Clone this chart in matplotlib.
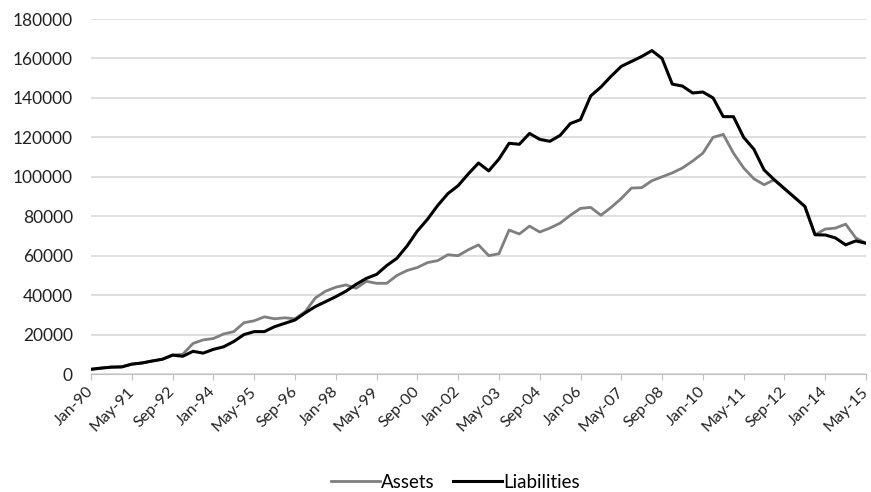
import numpy as np
import matplotlib
matplotlib.use("Agg")
from matplotlib import pyplot as plt

# one reading every 4 months, Jan-90 .. May-15
months = np.arange(0, 305, 4)

liabilities = [
    2400, 3000, 3500, 3600, 5000, 5600, 6600, 7500, 9600, 9000,
    11500, 10600, 12500, 13800, 16500, 20000, 21500, 21500, 24000, 25700,
    27400, 31000, 34200, 36700, 39200, 42000, 45500, 48500, 50500, 55000,
    58700, 65000, 72500, 78500, 85500, 91500, 95500, 101500, 107000, 103000,
    109000, 117000, 116500, 122000, 119000, 118000, 121000, 127000, 129000, 141000,
    145500, 151000, 156000, 158500, 161000, 164000, 160000, 147000, 146000, 142500,
    143000, 140000, 130500, 130500, 120000, 114000, 103500, 98500, 94000, 89500,
    85000, 70600, 70500, 69000, 65500, 67500, 66300,
]

assets = [
    2400, 3000, 3500, 3600, 5000, 5600, 6600, 7500, 9600, 10000,
    15500, 17300, 18000, 20300, 21500, 26000, 27000, 29000, 28000, 28500,
    28000, 31600, 38600, 42000, 44000, 45200, 43500, 47000, 46000, 46000,
    50000, 52500, 54000, 56500, 57500, 60500, 60000, 63000, 65500, 60000,
    61000, 73000, 71000, 75000, 72000, 74000, 76500, 80500, 84000, 84500,
    80500, 84500, 89000, 94300, 94500, 98000, 100000, 102000, 104500, 108000,
    112000, 120000, 121500, 112000, 104500, 99000, 96000, 98500, 94000, 89500,
    85000, 70600, 73500, 74000, 76000, 69000, 66300,
]

tick_labels = ["Jan-90", "May-91", "Sep-92", "Jan-94", "May-95", "Sep-96",
               "Jan-98", "May-99", "Sep-00", "Jan-02", "May-03", "Sep-04",
               "Jan-06", "May-07", "Sep-08", "Jan-10", "May-11", "Sep-12",
               "Jan-14", "May-15"]

plt.rcParams['font.family'] = ['Lato', 'DejaVu Sans']

fig = plt.figure(figsize=(8.71, 4.92), dpi=100)
ax = fig.add_axes([0.1045, 0.2398, 0.8898, 0.7215])

ax.plot(months, assets, color='#7f7f7f', lw=2.0, label='Assets')
ax.plot(months, liabilities, color='black', lw=2.2, label='Liabilities')

ax.set_xlim(0, 304)
ax.set_ylim(0, 180000)
ax.set_yticks(np.arange(0, 180001, 20000))
ax.set_yticklabels([str(v) for v in range(0, 180001, 20000)], fontsize=12.5, color='#222222')
ax.set_xticks(np.arange(0, 305, 16))
ax.set_xticklabels(tick_labels, rotation=45, ha='right', va='center',
                   rotation_mode='anchor', fontsize=11.5, color='#222222')

ax.grid(axis='y', color='#d9d9d9', lw=1.2)
ax.set_axisbelow(True)
for s in ['top', 'right', 'left']:
    ax.spines[s].set_visible(False)
ax.spines['bottom'].set_color('#bfbfbf')
ax.tick_params(axis='y', length=0, pad=13)
ax.tick_params(axis='x', length=4, color='#bfbfbf', pad=7)

fig.legend(loc='center', bbox_to_anchor=(0.523, 0.02), ncol=2, frameon=False,
           fontsize=13.5, handlelength=2.6, handletextpad=0.05, columnspacing=1.0)

plt.savefig('out.png', dpi=100)
